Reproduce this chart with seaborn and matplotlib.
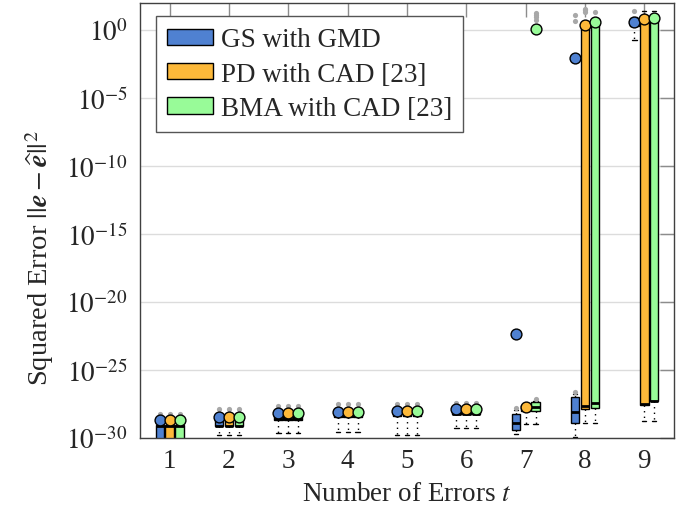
import numpy as np
import pandas as pd
import matplotlib
matplotlib.use("Agg")
import matplotlib.pyplot as plt
import seaborn as sns

methods = ["GS with GMD", "PD with CAD [23]", "BMA with CAD [23]"]
colors = ["#4f81d1", "#fdb93a", "#98fb98"]
t_vals = [1, 2, 3, 4, 5, 6, 7, 8, 9]
y_exps = [-30, -25, -20, -15, -10, -5, 0]

# log10 of box stats per t: lower whisker, q1, median, q3, upper whisker
gs_box = [
    [-33.0, -31.0, -29.15, -29.08, -28.75],
    [-29.8, -29.15, -29.1, -28.6, -28.2],
    [-29.6, -28.65, -28.6, -28.3, -28.0],
    [-29.55, -28.45, -28.4, -28.2, -27.9],
    [-29.8, -28.38, -28.33, -28.1, -27.8],
    [-29.3, -28.25, -28.2, -28.0, -27.7],
    [-29.7, -29.39, -28.92, -28.24, -27.95],
    [-29.9, -28.9, -28.11, -27.01, -26.8],
    [-0.75, 0.3, 0.5, 0.85, 0.95],
]
pd_box = [
    [-33.0, -31.0, -29.15, -29.08, -28.75],
    [-29.8, -29.15, -29.1, -28.6, -28.2],
    [-29.6, -28.65, -28.6, -28.3, -28.0],
    [-29.55, -28.45, -28.4, -28.2, -27.9],
    [-29.8, -28.38, -28.33, -28.1, -27.8],
    [-29.3, -28.25, -28.2, -28.0, -27.7],
    [-29.0, -28.0, -27.85, -27.6, -27.4],
    [-28.92, -27.9, -27.63, 0.3, 0.6],
    [-28.77, -27.58, -27.5, 0.7, 1.37],
]
bma_box = [
    [-33.0, -31.0, -29.15, -29.08, -28.75],
    [-29.8, -29.15, -29.1, -28.6, -28.2],
    [-29.6, -28.65, -28.6, -28.3, -28.0],
    [-29.55, -28.45, -28.4, -28.2, -27.9],
    [-29.8, -28.38, -28.33, -28.1, -27.8],
    [-29.3, -28.25, -28.2, -28.0, -27.7],
    [-29.0, -27.99, -27.69, -27.38, -27.25],
    [-28.92, -27.82, -27.43, 0.55, 0.8],
    [-28.73, -27.3, -27.25, 0.75, 1.37],
]

# log10 of the mean squared error
gs_mean = [-28.68, -28.43, -28.16, -28.07, -28.0, -27.87, -22.34, -2.08, 0.59]
pd_mean = [-28.68, -28.43, -28.16, -28.07, -28.0, -27.87, -27.74, 0.35, 0.78]
bma_mean = [-28.68, -28.43, -28.16, -28.07, -28.0, -27.87, 0.05, 0.59, 0.83]

# outliers (log10): (t, value)
gs_out = [(1, -28.25), (2, -27.9), (3, -27.65), (4, -27.5), (5, -27.5), (6, -27.4),
          (7, -27.82), (8, -26.6), (8, 0.66), (8, 1.08), (9, 1.34)]
pd_out = [(1, -28.25), (2, -27.9), (3, -27.65), (4, -27.5), (5, -27.5), (6, -27.4),
          (8, 1.3), (8, 1.45), (8, 1.55)]
bma_out = [(1, -28.25), (2, -27.9), (3, -27.65), (4, -27.5), (5, -27.5), (6, -27.4),
           (7, -27.13), (7, 0.75), (7, 0.95), (7, 1.1), (7, 1.25), (8, 1.28)]

boxes = dict(zip(methods, [gs_box, pd_box, bma_box]))
means = dict(zip(methods, [gs_mean, pd_mean, bma_mean]))
outs = dict(zip(methods, [gs_out, pd_out, bma_out]))

rows = []
for m in methods:
    for t, stats in zip(t_vals, boxes[m]):
        for v in stats:
            rows.append({"t": t, "method": m, "err": 10.0 ** v})
df_box = pd.DataFrame(rows)

df_mean = pd.DataFrame([{"t": t, "method": m, "err": 10.0 ** v}
                        for m in methods for t, v in zip(t_vals, means[m])])

offsets = dict(zip(methods, [-1 / 6, 0, 1 / 6]))
df_out = pd.DataFrame([{"x": t + offsets[m], "err": 10.0 ** v}
                       for m in methods for t, v in outs[m]])

sns.set_style("white")
plt.rcParams["font.family"] = ["Liberation Serif", "DejaVu Serif"]
plt.rcParams["mathtext.fontset"] = "stix"

fig = plt.figure(figsize=(6.9, 5.1), dpi=100)
ax = fig.add_axes([140 / 690, 1 - 439 / 510, 534 / 690, 435.5 / 510])
ax.set_yscale("log")

sns.boxplot(data=df_box, x="t", y="err", hue="method", hue_order=methods,
            palette=colors, native_scale=True, width=0.5, gap=0.15,
            whis=(0, 100), saturation=1, linecolor="black", linewidth=1,
            fliersize=0, ax=ax,
            whiskerprops=dict(linestyle=(0, (1, 3))),
            medianprops=dict(linewidth=2))

sns.scatterplot(data=df_out, x="x", y="err", color="#a8a8a8", s=14,
                linewidth=0, ax=ax, zorder=4, legend=False)

sns.pointplot(data=df_mean, x="t", y="err", hue="method", hue_order=methods,
              palette=colors, native_scale=True, dodge=1 / 3, linestyle="none",
              markers="o", errorbar=None, markersize=7.8, markeredgewidth=1,
              legend=False, ax=ax, zorder=5)
for line in ax.lines[-3:]:
    line.set_markeredgecolor("black")

ax.set_xlim(0.5, 9.5)
ax.set_ylim(1e-30, 1e2)
ax.set_xticks(t_vals)
ax.set_xticklabels([str(t) for t in t_vals])
ax.set_yticks([10.0 ** e for e in y_exps])
ax.set_yticklabels([f"$10^{{{e}}}$" for e in y_exps])
ax.yaxis.set_minor_locator(matplotlib.ticker.NullLocator())
ax.tick_params(direction="in", length=10, width=1, color="#8c8c8c",
               top=True, right=True, labelsize=19.5)
ax.tick_params(axis="x", pad=7)
ax.tick_params(axis="y", pad=9)
ax.yaxis.grid(True, color="#dcdcdc", linewidth=1)
ax.set_axisbelow(True)
for sp in ax.spines.values():
    sp.set_color("#404040")
    sp.set_linewidth(1)

ax.set_xlabel("Number of Errors $t$", fontsize=19.5, labelpad=6)
ax.set_ylabel(r"Squared Error $||\boldsymbol{e}-\widehat{\boldsymbol{e}}||^2$",
              fontsize=20.5)
ax.yaxis.set_label_coords(-0.158, 0.415)

handles, labels = ax.get_legend_handles_labels()
ax.legend(handles[:3], labels[:3], loc="upper left", bbox_to_anchor=(0.03, 0.968),
          borderaxespad=0, fancybox=False, edgecolor="#555555", framealpha=1,
          fontsize=19.5, handlelength=1.7, handleheight=0.55, borderpad=0.4,
          labelspacing=0.35, handletextpad=0.3)

plt.savefig("out.png", dpi=100)
